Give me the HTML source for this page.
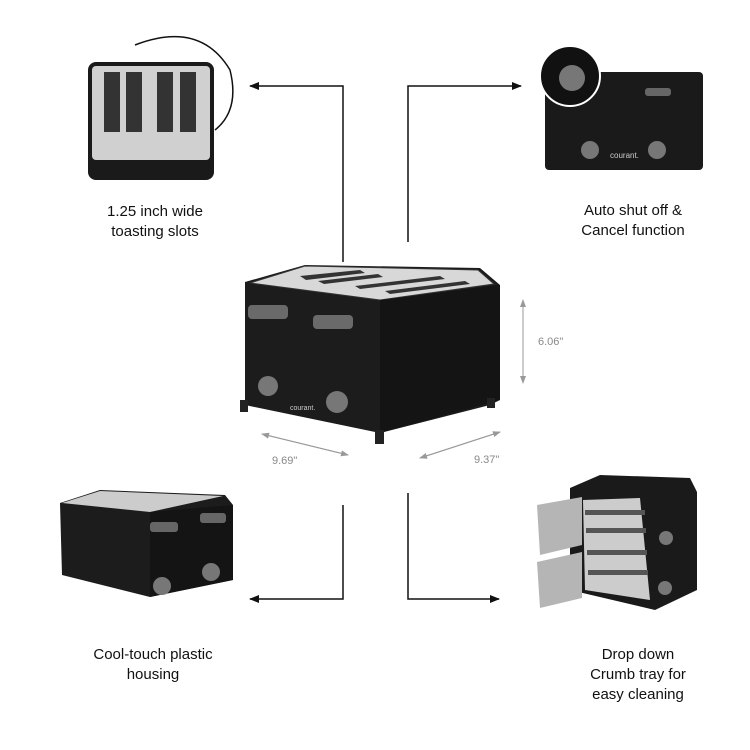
<!DOCTYPE html>
<html><head><style>body{margin:0;background:#fff}svg{display:block}</style></head><body>
<svg width="750" height="750" viewBox="0 0 750 750" xmlns="http://www.w3.org/2000/svg" font-family="Liberation Sans, sans-serif">
<defs>
<marker id="a" markerWidth="10" markerHeight="10" refX="9" refY="5" orient="auto" markerUnits="userSpaceOnUse"><path d="M0,1 L10,5 L0,9 Z" fill="#111"/></marker>
<marker id="g" markerWidth="8" markerHeight="8" refX="7" refY="4" orient="auto" markerUnits="userSpaceOnUse"><path d="M0,1 L8,4 L0,7 Z" fill="#999"/></marker>
</defs>
<!-- connectors -->
<g stroke="#111" stroke-width="1.5" fill="none">
<path d="M343,262 V86 H250" marker-end="url(#a)"/>
<path d="M408,242 V86 H521" marker-end="url(#a)"/>
<path d="M343,505 V599 H250" marker-end="url(#a)"/>
<path d="M408,493 V599 H499" marker-end="url(#a)"/>
</g>
<!-- center toaster -->
<path d="M245,282 L305,265 L480,268 L500,285 L500,400 L490,405 L380,433 L245,405 Z" fill="#1c1c1c"/>
<path d="M250,283 L305,266 L478,270 L494,284 L380,300 Z" fill="#d8d8d8" stroke="#333"/>
<path d="M300,276 L360,270 L365,273 L306,280Z M318,281 L378,274 L383,277 L324,284Z M355,286 L440,276 L445,279 L360,289Z M385,291 L465,281 L470,284 L390,294Z" fill="#333"/>
<path d="M380,300 L500,285 L500,400 L380,433 Z" fill="#141414"/>
<rect x="248" y="305" width="40" height="14" rx="4" fill="#6a6a6a"/>
<rect x="313" y="315" width="40" height="14" rx="4" fill="#6a6a6a"/>
<circle cx="268" cy="386" r="10" fill="#777"/>
<circle cx="337" cy="402" r="11" fill="#777"/>
<rect x="240" y="400" width="8" height="12" fill="#222"/>
<rect x="375" y="430" width="9" height="14" fill="#222"/>
<rect x="487" y="398" width="8" height="10" fill="#222"/>
<text x="290" y="410" font-size="7" fill="#ccc">courant.</text>
<g stroke="#999" stroke-width="1">
<path d="M523,300 V383" marker-end="url(#g)"/><path d="M523,383 V300" marker-end="url(#g)"/>
<path d="M262,434 L348,455" marker-end="url(#g)"/><path d="M348,455 L262,434" marker-end="url(#g)"/>
<path d="M420,458 L500,432" marker-end="url(#g)"/><path d="M500,432 L420,458" marker-end="url(#g)"/>
</g>
<g fill="#888" font-size="11"><text x="538" y="345">6.06"</text><text x="272" y="464">9.69"</text><text x="474" y="463">9.37"</text></g>
<!-- top-left toaster (top view) -->
<path d="M135,45 Q200,20 230,70 Q240,110 215,130" stroke="#111" fill="none" stroke-width="1.5"/>
<rect x="88" y="62" width="126" height="118" rx="8" fill="#1a1a1a"/>
<rect x="92" y="66" width="118" height="94" rx="4" fill="#d0d0d0"/>
<g fill="#333"><rect x="104" y="72" width="16" height="60"/><rect x="126" y="72" width="16" height="60"/><rect x="157" y="72" width="16" height="60"/><rect x="180" y="72" width="16" height="60"/></g>
<!-- top-right toaster -->
<rect x="545" y="72" width="158" height="98" rx="4" fill="#1a1a1a"/>
<rect x="645" y="88" width="26" height="8" rx="3" fill="#666"/>
<circle cx="570" cy="76" r="30" fill="#111" stroke="#fff" stroke-width="2"/>
<circle cx="572" cy="78" r="13" fill="#777"/>
<circle cx="590" cy="150" r="9" fill="#777"/><circle cx="657" cy="150" r="9" fill="#777"/>
<text x="610" y="158" font-size="8" fill="#ccc">courant.</text>
<!-- bottom-left toaster -->
<path d="M60,503 L100,490 L225,495 L233,505 L233,580 L150,597 L62,575 Z" fill="#1c1c1c"/>
<path d="M62,503 L100,491 L223,496 L150,512Z" fill="#ccc"/>
<path d="M150,512 L233,505 L233,580 L150,597Z" fill="#141414"/>
<rect x="150" y="522" width="28" height="10" rx="3" fill="#666"/><rect x="200" y="513" width="26" height="10" rx="3" fill="#666"/>
<circle cx="162" cy="586" r="9" fill="#777"/><circle cx="211" cy="572" r="9" fill="#777"/>
<!-- bottom-right toaster -->
<path d="M570,488 L600,475 L690,478 L697,492 L697,590 L655,610 L570,590 Z" fill="#1a1a1a"/>
<path d="M583,500 L640,498 L650,600 L585,590Z" fill="#ccc"/>
<g fill="#555"><rect x="585" y="510" width="60" height="5"/><rect x="586" y="528" width="60" height="5"/><rect x="587" y="550" width="60" height="5"/><rect x="588" y="570" width="60" height="5"/></g>
<path d="M537,505 L582,497 L582,545 L540,555Z M537,562 L582,552 L582,598 L540,608Z" fill="#b5b5b5"/>
<circle cx="666" cy="538" r="7" fill="#777"/><circle cx="665" cy="588" r="7" fill="#777"/>
<!-- labels -->
<g font-size="15" fill="#111" text-anchor="middle">
<text x="155" y="216">1.25 inch wide</text><text x="155" y="236">toasting slots</text>
<text x="633" y="215">Auto shut off &amp;</text><text x="633" y="235">Cancel function</text>
<text x="153" y="659">Cool-touch plastic</text><text x="153" y="679">housing</text>
<text x="638" y="659">Drop down</text><text x="638" y="679">Crumb tray for</text><text x="638" y="699">easy cleaning</text>
</g>
</svg>
</body></html>
